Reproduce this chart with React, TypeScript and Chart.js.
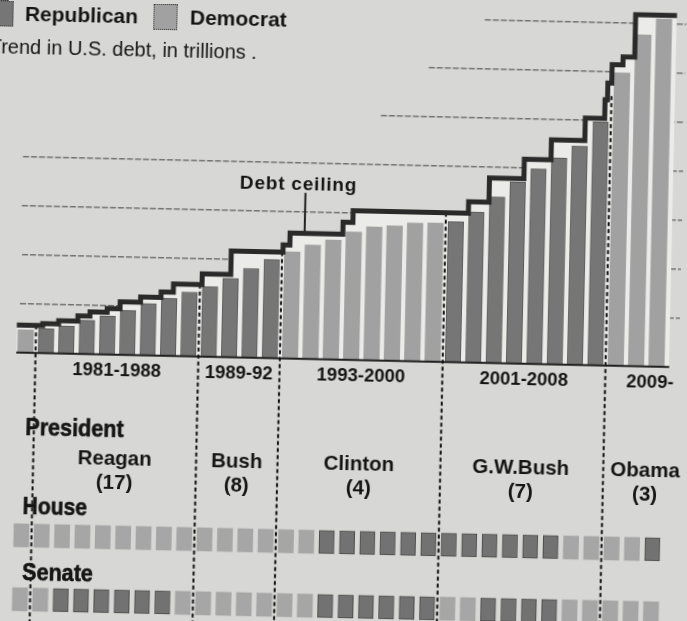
import React, { useEffect, useRef, useState } from "react";
import { Chart, registerables } from "chart.js";

Chart.register(...registerables);

// ---------------- data ----------------
const years = [
  1980, 1981, 1982, 1983, 1984, 1985, 1986, 1987, 1988, 1989, 1990, 1991, 1992, 1993, 1994, 1995,
  1996, 1997, 1998, 1999, 2000, 2001, 2002, 2003, 2004, 2005, 2006, 2007, 2008, 2009, 2010, 2011,
];
// U.S. debt, trillions of dollars
const debtTrillions = [
  0.93, 0.99, 1.13, 1.38, 1.57, 1.82, 2.12, 2.35, 2.62, 2.86, 3.22, 3.64, 4.03, 4.35, 4.65, 4.87,
  5.22, 5.44, 5.5, 5.64, 5.66, 5.73, 6.15, 6.78, 7.4, 7.96, 8.42, 8.93, 9.93, 11.95, 13.53, 14.19,
];
const presidentParty = [
  "D", "R", "R", "R", "R", "R", "R", "R", "R", "R", "R", "R", "R", "D", "D", "D",
  "D", "D", "D", "D", "D", "R", "R", "R", "R", "R", "R", "R", "R", "D", "D", "D",
];
const houseParty = [
  "D", "D", "D", "D", "D", "D", "D", "D", "D", "D", "D", "D", "D", "D", "D", "R",
  "R", "R", "R", "R", "R", "R", "R", "R", "R", "R", "R", "D", "D", "D", "D", "R",
];
const senateParty = [
  "D", "D", "R", "R", "R", "R", "R", "R", "D", "D", "D", "D", "D", "D", "D", "R",
  "R", "R", "R", "R", "R", "D", "D", "R", "R", "R", "R", "D", "D", "D", "D", "D",
];
// debt ceiling steps (position in year-index units, level in trillions)
const ceilingStarts = [
  -0.45, 0.82, 1.6, 2.54, 3.13, 3.97, 4.6, 5.6, 6.6, 7.2, 8.6, 10.0, 12.54, 12.87, 15.46, 15.94,
  21.6, 22.6, 24.29, 25.6, 27.24, 28.19, 28.31, 28.5, 29.03, 29.6,
];
const ceilingLevels = [
  1.12, 1.2, 1.33, 1.55, 1.72, 1.88, 2.16, 2.38, 2.6, 2.94, 3.38, 4.33, 4.63, 5.12, 5.61, 6.09,
  6.56, 7.55, 8.34, 9.16, 10.08, 10.84, 11.53, 12.28, 12.61, 14.35,
];
const ceilingEnd = 31.63;
const ceilingNoteAt = 13.58;
const ceilingNoteTop = 6.77;

const gridLevels = [2, 4, 6, 8, 10, 12, 14];
const gridStarts = [-0.32, -0.27, -0.33, -0.33, 17.2, 19.5, 22.2];
const gridEnd = 32.1;

const eraBounds = [0.5, 8.5, 12.5, 20.5, 28.5];
const eraTops = [1.12, 2.94, 4.33, 6.09, 11.0];
const eraLabels = ["1981-1988", "1989-92", "1993-2000", "2001-2008", "2009-"];
const eraLabelAt = [4.5, 10.5, 16.5, 24.5, 30.7];

const presidents = ["Reagan", "Bush", "Clinton", "G.W.Bush", "Obama"];
const presidentTerms = ["(17)", "(8)", "(4)", "(7)", "(3)"];
const presidentAt = [4.5, 10.5, 16.5, 24.45, 30.56];

const legendNames = ["Republican", "Democrat"];
const legendSwatchFrom = [-2.156, 5.9];
const legendSwatchTo = [-0.977, 7.08];
const legendTextAt = [-0.393, 7.716];

// ---------------- layout / style ----------------
const W = 727;
const H = 661;
const PAD = 20;
const X_MIN = -2.279;
const X_MAX = 33.428;
const Y_MIN = -11.482;
const Y_MAX = 15.498;
const HOUSE_ROW = [-7.93, -6.99];
const SENATE_ROW = [-10.54, -9.6];

const PAPER = "#d7d7d5";
const CEIL_FILL = "#ebebe9";
const REP = "#767676";
const DEM = "#a1a1a1";
const INK = "#151515";
const FONT = '"Liberation Sans", Arial, Helvetica, sans-serif';

type Mark = {
  text: string;
  x: number;
  y: number;
  size: number;
  weight: number;
  align: "center" | "left";
  sx?: number;
  spacing?: number;
  heavy?: boolean;
};

type Swatch = { left: number; top: number; width: number; height: number; color: string };

export default function App() {
  const ref = useRef<HTMLCanvasElement>(null);
  const [marks, setMarks] = useState<Mark[]>([]);
  const [swatches, setSwatches] = useState<Swatch[]>([]);

  useEffect(() => {
    const html = document.documentElement;
    const body = document.body;
    html.style.background = PAPER;
    body.style.margin = "0";
    body.style.background = PAPER;
    body.style.overflow = "hidden";

    const ceilingPts: { x: number; y: number }[] = [];
    ceilingStarts.forEach((s, k) => {
      const e = k + 1 < ceilingStarts.length ? ceilingStarts[k + 1] : ceilingEnd;
      ceilingPts.push({ x: s, y: ceilingLevels[k] }, { x: e, y: ceilingLevels[k] });
    });
    let noteBase = ceilingLevels[0];
    ceilingStarts.forEach((s, k) => {
      if (s <= ceilingNoteAt) noteBase = ceilingLevels[k];
    });

    const gridSets = gridLevels.map((lv, k) => ({
      type: "line" as const,
      data: [
        { x: gridStarts[k], y: lv },
        { x: gridEnd, y: lv },
      ],
      borderColor: "rgba(80,80,80,0.75)",
      borderWidth: 1.5,
      borderDash: [6, 2],
      pointRadius: 0,
      fill: false,
      order: 6,
    }));

    const eraSets = eraBounds.map((b, k) => ({
      type: "line" as const,
      data: [
        { x: b, y: eraTops[k] },
        { x: b, y: Y_MIN },
      ],
      borderColor: "#111111",
      borderWidth: 2,
      borderDash: [4, 3],
      pointRadius: 0,
      fill: false,
      order: 1,
    }));

    const partyFill = (p: string) => (p === "R" ? REP : DEM);

    const chart = new Chart(ref.current as HTMLCanvasElement, {
      type: "bar",
      data: {
        datasets: [
          ...gridSets,
          {
            type: "line",
            data: ceilingPts,
            fill: "origin",
            backgroundColor: CEIL_FILL,
            borderWidth: 0,
            pointRadius: 0,
            order: 5,
          },
          {
            type: "bar",
            data: years.map((_, i) => ({ x: i, y: debtTrillions[i] })),
            backgroundColor: presidentParty.map(partyFill),
            borderColor: presidentParty.map((p) => (p === "R" ? "rgba(45,45,45,0.75)" : "rgba(0,0,0,0)")),
            borderWidth: presidentParty.map((p) => (p === "R" ? 1 : 0)),
            borderSkipped: "start",
            barThickness: 15.5,
            grouped: false,
            order: 2,
          },
          {
            type: "bar",
            data: years.map((_, i) => ({ x: i, y: HOUSE_ROW })),
            backgroundColor: houseParty.map((p) => (p === "R" ? "#727272" : "#a6a6a6")),
            borderColor: houseParty.map((p) => (p === "R" ? "rgba(40,40,40,0.8)" : "rgba(0,0,0,0)")),
            borderWidth: houseParty.map((p) => (p === "R" ? 1 : 0)),
            borderSkipped: false,
            barThickness: 15,
            grouped: false,
            order: 2,
          },
          {
            type: "bar",
            data: years.map((_, i) => ({ x: i, y: SENATE_ROW })),
            backgroundColor: senateParty.map((p) => (p === "R" ? "#727272" : "#a6a6a6")),
            borderColor: senateParty.map((p) => (p === "R" ? "rgba(40,40,40,0.8)" : "rgba(0,0,0,0)")),
            borderWidth: senateParty.map((p) => (p === "R" ? 1 : 0)),
            borderSkipped: false,
            barThickness: 15,
            grouped: false,
            order: 2,
          },
          ...eraSets,
          {
            type: "line",
            data: [
              { x: ceilingStarts[0], y: 0 },
              { x: ceilingEnd, y: 0 },
            ],
            borderColor: "#1e1e1e",
            borderWidth: 2,
            pointRadius: 0,
            fill: false,
            order: 1,
          },
          {
            type: "line",
            data: ceilingPts,
            borderColor: "#2a2a2a",
            borderWidth: 5,
            borderJoinStyle: "miter",
            borderCapStyle: "butt",
            pointRadius: 0,
            fill: false,
            order: 0,
          },
          {
            type: "line",
            data: [
              { x: ceilingNoteAt, y: ceilingNoteTop },
              { x: ceilingNoteAt, y: noteBase },
            ],
            borderColor: "#222222",
            borderWidth: 2,
            pointRadius: 0,
            fill: false,
            order: 0,
          },
        ] as any,
      },
      options: {
        animation: false,
        responsive: false,
        maintainAspectRatio: false,
        events: [],
        layout: { padding: 0, autoPadding: false } as any,
        plugins: {
          legend: { display: false },
          tooltip: { enabled: false },
          title: { display: false },
        },
        scales: {
          x: { type: "linear", min: X_MIN, max: X_MAX, display: false, offset: false, grid: { offset: false } },
          y: { type: "linear", min: Y_MIN, max: Y_MAX, display: false, offset: false },
        },
      },
    });

    const sx = (v: number) => chart.scales.x.getPixelForValue(v);
    const sy = (v: number) => chart.scales.y.getPixelForValue(v);

    const m: Mark[] = [];
    legendNames.forEach((n, k) =>
      m.push({ text: n, x: sx(legendTextAt[k]), y: sy(13.865), size: 21, weight: 700, align: "left" })
    );
    m.push({
      text: "Trend in U.S. debt, in trillions .",
      x: sx(-2.083),
      y: sy(12.494),
      size: 20,
      weight: 400,
      align: "left",
    });
    m.push({ text: "Debt ceiling", x: sx(13.23), y: sy(7.151), size: 19, weight: 700, align: "center", spacing: 0.8 });
    eraLabels.forEach((t, k) =>
      m.push({ text: t, x: sx(eraLabelAt[k]), y: sy(-0.645), size: 18.5, weight: 700, align: "center" })
    );
    presidents.forEach((t, k) => {
      m.push({ text: t, x: sx(presidentAt[k]), y: sy(-4.216), size: 20.5, weight: 700, align: "center" });
      m.push({ text: presidentTerms[k], x: sx(presidentAt[k]), y: sy(-5.176), size: 20.5, weight: 700, align: "center" });
    });
    m.push({ text: "President", x: sx(0.06), y: sy(-3.03), size: 24, weight: 700, align: "left", sx: 0.9, heavy: true });
    m.push({ text: "House", x: sx(0.04), y: sy(-6.253), size: 24, weight: 700, align: "left", sx: 0.88, heavy: true });
    m.push({ text: "Senate", x: sx(0.07), y: sy(-8.947), size: 24, weight: 700, align: "left", sx: 0.9, heavy: true });
    setMarks(m);

    setSwatches(
      legendNames.map((_, k) => ({
        left: sx(legendSwatchFrom[k]),
        top: sy(14.355),
        width: sx(legendSwatchTo[k]) - sx(legendSwatchFrom[k]),
        height: sy(13.294) - sy(14.355),
        color: k === 0 ? REP : DEM,
      }))
    );

    return () => chart.destroy();
  }, []);

  return (
    <div
      style={{
        position: "fixed",
        left: -PAD,
        top: -PAD,
        width: W,
        height: H,
        transform: "rotate(1.27deg)",
        transformOrigin: "50% 50%",
      }}
    >
      <canvas
        ref={ref}
        width={W}
        height={H}
        style={{ position: "absolute", left: 0, top: 0, width: W, height: H }}
      />
      {swatches.map((s, k) => (
        <div
          key={"sw" + k}
          style={{
            position: "absolute",
            left: s.left,
            top: s.top,
            width: s.width,
            height: s.height,
            background: s.color,
            border: "1px dotted #333",
            boxSizing: "border-box",
          }}
        />
      ))}
      {marks.map((mk, k) => (
        <div
          key={"m" + k}
          style={{
            position: "absolute",
            left: mk.x,
            top: mk.y,
            transform: `translate(${mk.align === "center" ? "-50%" : "0"}, -50%)${mk.sx ? ` scaleX(${mk.sx})` : ""}`,
            transformOrigin: mk.align === "center" ? "50% 50%" : "0 50%",
            fontFamily: FONT,
            fontSize: mk.size,
            fontWeight: mk.weight,
            lineHeight: 1,
            whiteSpace: "nowrap",
            color: INK,
            letterSpacing: mk.spacing ? mk.spacing : 0,
            WebkitTextStroke: mk.heavy ? "0.6px " + INK : undefined,
          }}
        >
          {mk.text}
        </div>
      ))}
    </div>
  );
}
